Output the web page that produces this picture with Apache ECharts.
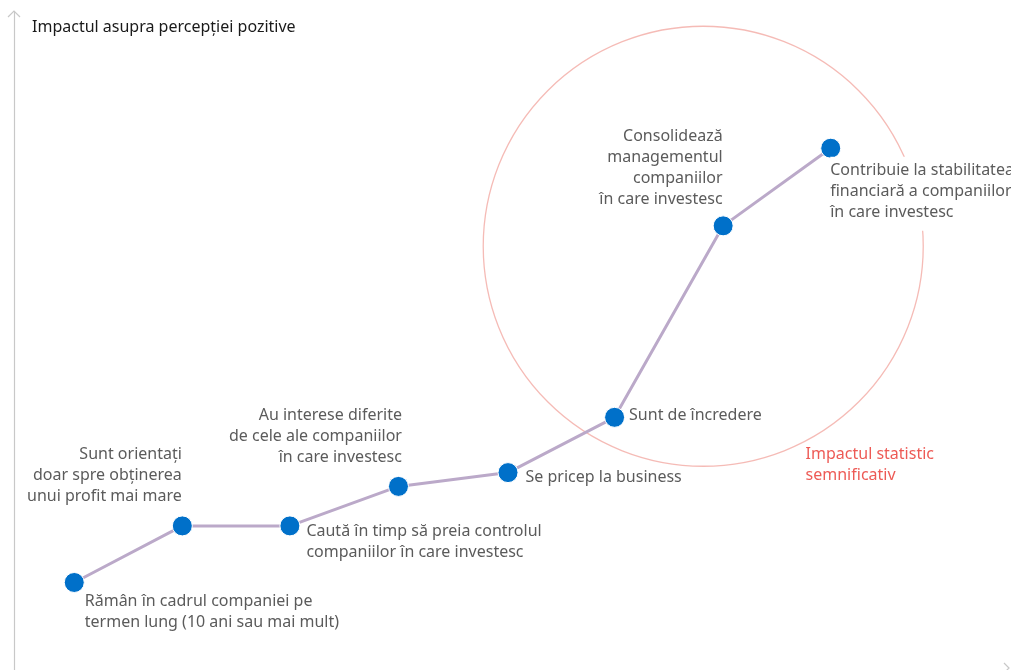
<!DOCTYPE html>
<html>
<head>
<meta charset="utf-8">
<script src="https://cdn.jsdelivr.net/npm/echarts@6/dist/echarts.min.js"></script>
<style>
  html, body { margin: 0; padding: 0; background: #fff; }
  #chart { width: 1011px; height: 670px; }
</style>
</head>
<body>
<div id="chart"></div>
<script>
var chart = echarts.init(document.getElementById('chart'));

// factorii, de la stanga la dreapta
var factori = [
    'Rămân în cadrul companiei pe\ntermen lung (10 ani sau mai mult)',
    'Sunt orientați\ndoar spre obținerea\nunui profit mai mare',
    'Caută în timp să preia controlul\ncompaniilor în care investesc',
    'Au interese diferite\nde cele ale companiilor\nîn care investesc',
    'Se pricep la business',
    'Sunt de încredere',
    'Consolidează\nmanagementul\ncompaniilor\nîn care investesc',
    'Contribuie la stabilitatea\nfinanciară a companiilor\nîn care investesc'
];
var pozitieX = [6.05, 16.9, 27.7, 38.6, 49.6, 60.3, 71.2, 82.0];
var impact = [13.3, 21.9, 21.9, 27.9, 30.0, 38.4, 67.5, 79.3];

// cercul pentru impactul semnificativ (centru)
var cercCentru = [69.2, 64.4];
var titluAxa = 'Impactul asupra percepției pozitive';
var notaCerc = 'Impactul statistic\nsemnificativ';

var FONT = 'Noto Sans';

// pozitia etichetei fata de punct: [dx, dy, align, verticalAlign]
var etichete = [
    [21, 19, 'left', 'top'],
    [10, -8, 'right', 'bottom'],
    [27, 6, 'left', 'top'],
    [14, -8, 'right', 'bottom'],
    [28, 15, 'left', 'middle'],
    [25, 9, 'left', 'middle'],
    [10, -5, 'right', 'bottom'],
    [10, 19, 'left', 'top']
];

var puncte = [];
for (var i = 0; i < factori.length; i++) {
    var e = etichete[i];
    var p = {
        value: [pozitieX[i], impact[i]],
        name: factori[i],
        label: {
            position: [e[0], e[1]],
            align: e[2],
            verticalAlign: e[3]
        }
    };
    if (i == 7) {
        p.label.backgroundColor = '#fff';
        p.label.padding = [3, 4, 8, 0];
    }
    puncte.push(p);
}

var option = {
    animation: false,
    title: {
        text: titluAxa,
        left: 27,
        top: 14,
        textStyle: {
            fontFamily: FONT,
            fontWeight: 'normal',
            fontSize: 16,
            color: '#1a1a1a'
        }
    },
    grid: {
        left: 14,
        right: 1,
        top: 12,
        bottom: 0
    },
    xAxis: {
        type: 'value',
        min: 0,
        max: 100,
        axisLine: { show: false },
        axisTick: { show: false },
        axisLabel: { show: false },
        splitLine: { show: false }
    },
    yAxis: {
        type: 'value',
        min: 0,
        max: 100,
        axisLine: { show: true, lineStyle: { color: '#c8c8c8', width: 1.2 } },
        axisTick: { show: false },
        axisLabel: { show: false },
        splitLine: { show: false }
    },
    series: [
        {
            // cercul
            type: 'scatter',
            z: 1,
            data: [cercCentru],
            symbol: 'circle',
            symbolSize: 440,
            silent: true,
            itemStyle: {
                color: 'rgba(0,0,0,0)',
                borderColor: '#f3aaa4',
                borderWidth: 1.3
            },
            label: {
                show: true,
                formatter: notaCerc,
                position: [323, 418],
                align: 'left',
                verticalAlign: 'top',
                fontFamily: FONT,
                fontSize: 16,
                lineHeight: 21,
                color: '#e8312a'
            }
        },
        {
            type: 'line',
            z: 3,
            data: puncte,
            symbol: 'circle',
            symbolSize: 20,
            lineStyle: { color: '#bba9c9', width: 3 },
            itemStyle: {
                color: '#0070c9',
                borderColor: '#fff',
                borderWidth: 1
            },
            label: {
                show: true,
                formatter: function (p) { return p.name; },
                fontFamily: FONT,
                fontSize: 16,
                lineHeight: 21,
                color: '#5b5b5b'
            }
        }
    ],
    graphic: [
        {
            type: 'polyline',
            shape: { points: [[8, 17], [14, 11], [20, 17]] },
            style: { stroke: '#c8c8c8', lineWidth: 1.2, fill: null }
        },
        {
            type: 'polyline',
            shape: { points: [[1004, 663], [1009, 668], [1004, 673]] },
            style: { stroke: '#c8c8c8', lineWidth: 1.2, fill: null }
        }
    ]
};

chart.setOption(option);
</script>
</body>
</html>
